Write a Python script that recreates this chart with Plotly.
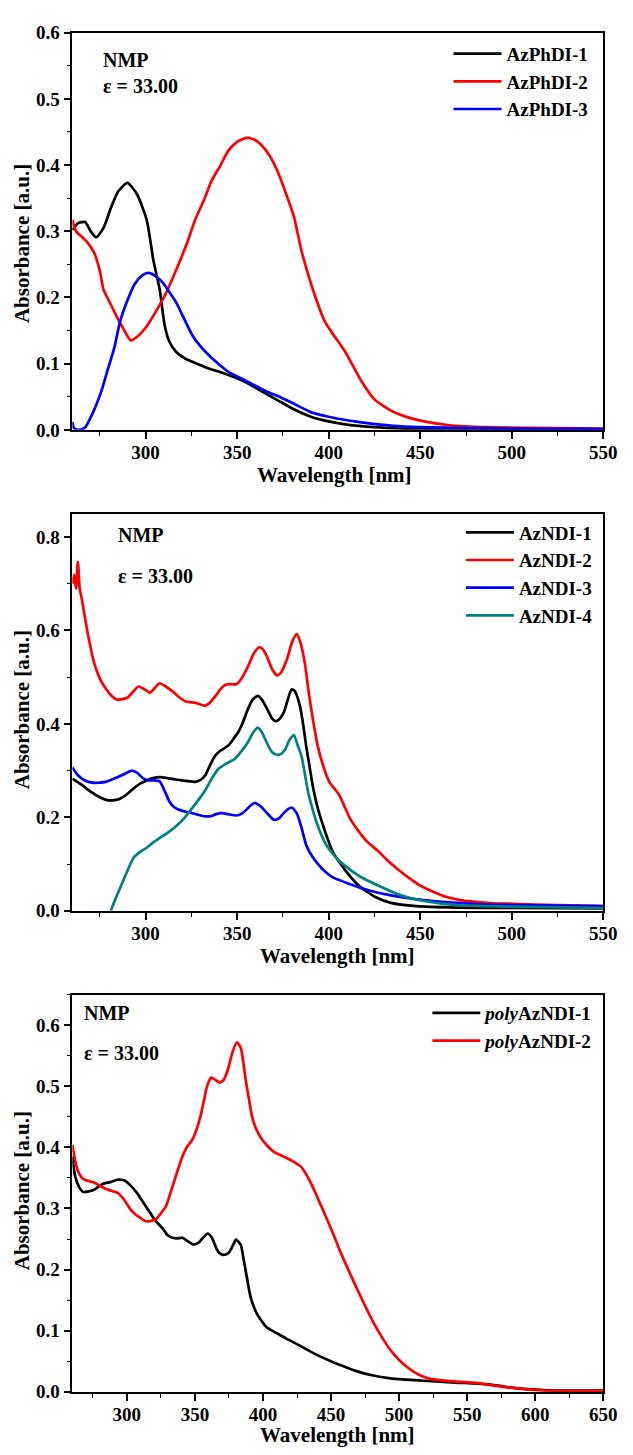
import plotly.graph_objects as go

# ---------------- Panel 1 : AzPhDI ----------------
wl_phdi1 = [260, 263, 267, 270, 273, 277, 281, 285, 290, 295.3, 300.6, 304.2, 307.7, 310.4, 313, 316.6,
            322, 328, 334, 341, 349, 356, 363, 372, 381, 391, 398, 410, 425, 440, 455, 475, 500, 525, 550]
ab_phdi1 = [0.302, 0.312, 0.314, 0.300, 0.291, 0.305, 0.335, 0.360, 0.373, 0.356, 0.317, 0.257, 0.212, 0.158,
            0.133, 0.118, 0.107, 0.100, 0.093, 0.087, 0.079, 0.070, 0.059, 0.045, 0.031, 0.019, 0.014, 0.008,
            0.004, 0.002, 0.001, 0.001, 0.001, 0.001, 0.001]

wl_phdi2 = [260, 262, 265, 268, 272, 275, 277, 280, 283, 287, 292, 296, 301, 305, 310, 314, 318, 323, 327,
            332, 336, 341, 345, 350, 355, 359, 363, 368, 372, 376, 381, 385, 391, 398, 404, 409, 418, 425,
            434, 442, 450, 466, 487, 510, 550]
ab_phdi2 = [0.317, 0.300, 0.292, 0.284, 0.267, 0.240, 0.212, 0.195, 0.178, 0.157, 0.135, 0.142, 0.158, 0.176,
            0.200, 0.224, 0.250, 0.285, 0.317, 0.348, 0.376, 0.400, 0.421, 0.435, 0.441, 0.439, 0.431, 0.413,
            0.391, 0.362, 0.322, 0.272, 0.215, 0.163, 0.138, 0.118, 0.073, 0.046, 0.029, 0.020, 0.014, 0.007,
            0.004, 0.003, 0.002]

wl_phdi3 = [260, 261, 264, 267, 272, 276, 279, 283, 286, 290, 294, 298, 301.5, 305, 309.5, 313, 316.6, 321,
            325.5, 330, 334.4, 340, 345, 352, 359, 366, 374, 382, 391, 398, 407, 416, 434, 450, 475, 500, 550]
ab_phdi3 = [0.012, 0.002, 0.000, 0.004, 0.031, 0.060, 0.088, 0.125, 0.163, 0.195, 0.220, 0.233, 0.237, 0.233,
            0.222, 0.208, 0.193, 0.168, 0.143, 0.126, 0.113, 0.099, 0.088, 0.078, 0.068, 0.058, 0.049, 0.038,
            0.026, 0.021, 0.016, 0.012, 0.0064, 0.004, 0.003, 0.002, 0.001]

# ---------------- Panel 2 : AzNDI ----------------
wl_ndi1 = [260, 265, 270, 275, 279, 283, 286, 290, 293.5, 297, 300.6, 304, 307.7, 312, 316.6, 322, 327.3, 330,
           332.6, 335, 338, 341, 345, 348, 350.4, 353, 355.8, 358.5, 361.2, 363.5, 366.5, 369, 371, 373, 375.4,
           377.5, 379.8, 381.5, 384.3, 386, 387.8, 389.5, 391.4, 394, 396.8, 402, 409.2, 416.4, 425.2, 434, 448,
           470, 500, 550]
ab_ndi1 = [0.283, 0.270, 0.255, 0.243, 0.237, 0.237, 0.240, 0.250, 0.262, 0.272, 0.279, 0.284, 0.286, 0.284,
           0.281, 0.278, 0.276, 0.280, 0.290, 0.310, 0.332, 0.343, 0.353, 0.368, 0.381, 0.402, 0.431, 0.452,
           0.460, 0.452, 0.431, 0.412, 0.406, 0.410, 0.424, 0.450, 0.474, 0.470, 0.438, 0.400, 0.350, 0.310,
           0.265, 0.220, 0.184, 0.128, 0.086, 0.054, 0.030, 0.017, 0.010, 0.007, 0.006, 0.005]

wl_ndi2 = [260, 261, 262, 263, 264, 265, 268.5, 272, 275, 277.5, 281, 284.6, 290, 293, 296, 299, 302.4, 305,
           307.7, 311, 314.9, 318, 322, 327.3, 332.6, 335, 338, 341, 343.3, 346, 349.6, 352, 355.8, 359, 362,
           364, 366.4, 369, 371.8, 374, 377, 380, 382.5, 384.5, 387, 389, 391.4, 394, 397, 400.3, 403, 405.7,
           409, 412, 416.4, 421, 427, 432, 437.7, 444, 450, 457, 464, 472, 480, 490, 501, 525, 550]
ab_ndi2 = [0.700, 0.719, 0.690, 0.747, 0.690, 0.670, 0.592, 0.529, 0.497, 0.480, 0.462, 0.452, 0.456, 0.468,
           0.480, 0.475, 0.467, 0.477, 0.487, 0.480, 0.469, 0.458, 0.448, 0.445, 0.439, 0.445, 0.459, 0.475,
           0.483, 0.485, 0.485, 0.495, 0.522, 0.550, 0.564, 0.560, 0.543, 0.518, 0.504, 0.510, 0.536, 0.575,
           0.592, 0.575, 0.529, 0.470, 0.409, 0.353, 0.310, 0.276, 0.262, 0.248, 0.220, 0.195, 0.170, 0.148,
           0.128, 0.108, 0.089, 0.070, 0.054, 0.041, 0.030, 0.023, 0.019, 0.016, 0.015, 0.012, 0.010]

wl_ndi3 = [260, 263, 266.8, 270, 273.9, 278, 282.8, 287, 292.6, 295.5, 298.8, 302, 304.2, 307.7, 310, 313,
           315.5, 318.4, 322, 325.5, 329, 332.6, 336, 338.5, 341.6, 345, 349.6, 352.5, 355, 357.5, 359.7, 362,
           364.7, 367.5, 370, 372.5, 375.4, 378, 379.8, 382.5, 385, 387.8, 391.4, 395, 398, 402, 411, 421.7,
           434, 451.8, 478.6, 500, 550]
ab_ndi3 = [0.307, 0.290, 0.279, 0.275, 0.274, 0.276, 0.283, 0.290, 0.300, 0.295, 0.283, 0.279, 0.279, 0.277,
           0.260, 0.234, 0.222, 0.216, 0.212, 0.209, 0.205, 0.202, 0.203, 0.207, 0.209, 0.207, 0.204, 0.208,
           0.216, 0.226, 0.231, 0.226, 0.216, 0.204, 0.195, 0.197, 0.209, 0.218, 0.221, 0.209, 0.180, 0.140,
           0.114, 0.096, 0.084, 0.072, 0.058, 0.044, 0.033, 0.023, 0.015, 0.012, 0.010]

wl_ndi4 = [281, 283.5, 286.3, 290, 293.5, 297, 300.6, 304, 307.7, 312, 316.6, 321, 325.5, 329, 332.6, 336,
           339.8, 344, 348.7, 352, 355.8, 358.5, 361.2, 363.5, 366.5, 369, 371.8, 374, 376.3, 378.5, 381, 383,
           385.2, 388.7, 391, 393.2, 398.5, 405.7, 416.4, 427, 439.5, 452, 469.8, 496, 550]
ab_ndi4 = [0.000, 0.025, 0.051, 0.085, 0.114, 0.126, 0.135, 0.146, 0.156, 0.167, 0.181, 0.198, 0.220, 0.238,
           0.258, 0.282, 0.304, 0.315, 0.325, 0.340, 0.360, 0.380, 0.392, 0.382, 0.357, 0.340, 0.334, 0.336,
           0.346, 0.365, 0.376, 0.355, 0.330, 0.255, 0.220, 0.191, 0.142, 0.107, 0.075, 0.054, 0.033, 0.021,
           0.012, 0.009, 0.006]

# ---------------- Panel 3 : polyAzNDI ----------------
wl_poly1 = [260, 262, 265, 268, 272, 276.3, 280, 283.4, 288, 293, 296, 299, 303, 307.3, 312, 316.8, 321, 326.4,
            330, 333.6, 337, 340.8, 345, 349, 352.7, 356, 359.4, 362.5, 365.9, 368, 370.6, 373, 375.4, 378,
            380.2, 383.8, 385.5, 387.4, 391, 395.7, 402.9, 410, 417.2, 425, 436.3, 450.7, 460, 469.8, 480,
            493.7, 505, 517.6, 541.5, 565.4, 589, 613, 650]
ab_poly1 = [0.385, 0.353, 0.335, 0.327, 0.328, 0.331, 0.337, 0.341, 0.343, 0.347, 0.347, 0.345, 0.337, 0.326,
            0.310, 0.294, 0.280, 0.267, 0.256, 0.252, 0.251, 0.252, 0.246, 0.241, 0.244, 0.252, 0.259, 0.252,
            0.234, 0.227, 0.224, 0.225, 0.229, 0.240, 0.249, 0.240, 0.220, 0.197, 0.154, 0.127, 0.105, 0.096,
            0.087, 0.078, 0.064, 0.049, 0.041, 0.033, 0.027, 0.022, 0.020, 0.018, 0.015, 0.012, 0.005, 0.002,
            0.002]

wl_poly2 = [260, 261.5, 263, 265, 268, 272, 276.3, 281, 285.8, 290, 293, 297.8, 302.5, 306, 309.7, 313, 315.7,
            318.5, 321.6, 325, 328.8, 332, 336, 340.8, 344, 348, 351, 353.9, 356.5, 358.7, 361.8, 364, 368.2,
            371, 374.2, 377.8, 380.9, 383.8, 385.5, 387.4, 390, 392.1, 395, 398.1, 403, 407.7, 414, 422, 428,
            434, 440, 445.9, 452, 457.8, 464, 469.8, 476, 481.7, 488, 493.7, 500, 505.6, 512, 517.6, 523, 529.5,
            540, 553.4, 562, 570, 589, 608, 650]
ab_poly2 = [0.404, 0.385, 0.369, 0.357, 0.348, 0.345, 0.342, 0.336, 0.331, 0.328, 0.326, 0.315, 0.299, 0.291,
            0.285, 0.280, 0.279, 0.280, 0.283, 0.292, 0.304, 0.325, 0.353, 0.385, 0.400, 0.412, 0.428, 0.449,
            0.475, 0.498, 0.514, 0.512, 0.506, 0.510, 0.527, 0.557, 0.572, 0.562, 0.540, 0.509, 0.475, 0.449,
            0.430, 0.417, 0.403, 0.393, 0.386, 0.377, 0.368, 0.347, 0.318, 0.288, 0.256, 0.224, 0.193, 0.165,
            0.136, 0.111, 0.087, 0.068, 0.052, 0.041, 0.031, 0.025, 0.021, 0.019, 0.017, 0.015, 0.013, 0.010,
            0.005, 0.002, 0.002]

names1 = ["AzPhDI-1", "AzPhDI-2", "AzPhDI-3"]
names2 = ["AzNDI-1", "AzNDI-2", "AzNDI-3", "AzNDI-4"]
names3 = ["<i>poly</i>AzNDI-1", "<i>poly</i>AzNDI-2"]
colors1 = ["#000000", "#FF0000", "#0000FF"]
colors2 = ["#000000", "#FF0000", "#0000FF", "#008080"]
colors3 = ["#000000", "#FF0000"]

W, H = 633, 1455
FONT = "Liberation Serif"

def px(x):
    return x / W

def py(y):
    return 1 - y / H

fig = go.Figure()

panels = [
    (list(zip([wl_phdi1, wl_phdi2, wl_phdi3], [ab_phdi1, ab_phdi2, ab_phdi3])), names1, colors1, "x", "y", "legend"),
    (list(zip([wl_ndi1, wl_ndi2, wl_ndi3, wl_ndi4], [ab_ndi1, ab_ndi2, ab_ndi3, ab_ndi4])), names2, colors2, "x2", "y2", "legend2"),
    (list(zip([wl_poly1, wl_poly2], [ab_poly1, ab_poly2])), names3, colors3, "x3", "y3", "legend3"),
]
for series, names, colors, xa, ya, lg in panels:
    for (xs, ys), n, c in zip(series, names, colors):
        fig.add_trace(go.Scatter(x=xs, y=ys, name=n, mode="lines", xaxis=xa, yaxis=ya, legend=lg,
                                 line=dict(color=c, width=2.7, shape="spline", smoothing=0.6)))

tickfont = dict(family=FONT, size=19, color="black", weight="bold")
titlefont = dict(family=FONT, size=21, color="black", weight="bold")

def xaxis(rng, anchor, standoff=-2):
    return dict(domain=[px(74), px(617)], range=rng, anchor=anchor, dtick=50, tick0=0,
                showline=True, linecolor="black", linewidth=1.5, mirror=True,
                ticks="outside", ticklen=7, tickwidth=1.5, tickcolor="black",
                minor=dict(ticks="outside", ticklen=4, tickwidth=1.2, tickcolor="black", dtick=25, tick0=0),
                showgrid=False, zeroline=False, tickfont=tickfont, ticklabelstandoff=standoff)

def yaxis(rng, top, bottom, anchor, dt, mdt):
    return dict(domain=[py(bottom), py(top)], range=rng, anchor=anchor, dtick=dt, tick0=0, tickformat=".1f",
                showline=True, linecolor="black", linewidth=1.5, mirror=True,
                ticks="outside", ticklen=7, tickwidth=1.5, tickcolor="black",
                minor=dict(ticks="outside", ticklen=4, tickwidth=1.2, tickcolor="black", dtick=mdt, tick0=0),
                showgrid=False, zeroline=False, tickfont=tickfont)

legfont = dict(family=FONT, size=19, color="black", weight="bold")
annfont = dict(family=FONT, size=20, color="black", weight="bold")

def legend(x, y):
    return dict(x=px(x), y=py(y), xanchor="left", yanchor="top", bgcolor="rgba(0,0,0,0)",
                borderwidth=0, font=legfont, itemwidth=48, tracegroupgap=0)

ann = []
for x, y, t in [(103, 51, "NMP"), (103, 77, "ε = 33.00"),
                (119, 533, "NMP"), (119, 574, "ε = 33.00"),
                (84, 1018, "NMP"), (84, 1058, "ε = 33.00")]:
    ann.append(dict(x=px(x), y=py(y), xref="paper", yref="paper", text=t, showarrow=False,
                    xanchor="left", yanchor="middle", font=annfont))

# axis titles (x: "Wavelength [nm]", y: "Absorbance [a.u.]")
for xc, yc in [(342, 472), (345, 960), (345, 1446)]:
    ann.append(dict(x=px(xc), y=py(yc), xref="paper", yref="paper", text="Wavelength [nm]",
                    showarrow=False, xanchor="center", yanchor="middle", font=titlefont))
for yc in [237, 710, 1198]:
    ann.append(dict(x=px(22), y=py(yc), xref="paper", yref="paper", text="Absorbance [a.u.]",
                    showarrow=False, xanchor="center", yanchor="middle", textangle=-90, font=titlefont))

fig.update_layout(
    width=W, height=H, autosize=False,
    margin=dict(l=0, r=0, t=0, b=0),
    paper_bgcolor="white", plot_bgcolor="white",
    xaxis=xaxis([260, 550], "y"),
    yaxis=yaxis([0, 0.6], 23, 426, "x", 0.1, 0.05),
    xaxis2=xaxis([260, 550], "y2"),
    yaxis2=yaxis([0, 0.85], 511, 914, "x2", 0.2, 0.1),
    xaxis3=xaxis([260, 650], "y3"),
    yaxis3=yaxis([0, 0.65], 999, 1402, "x3", 0.1, 0.05),
    legend=legend(458.7, 25.1),
    legend2=legend(471.3, 510.8),
    legend3=legend(437, 998.5),
    annotations=ann,
    showlegend=True,
)

fig.write_html("out.html")
